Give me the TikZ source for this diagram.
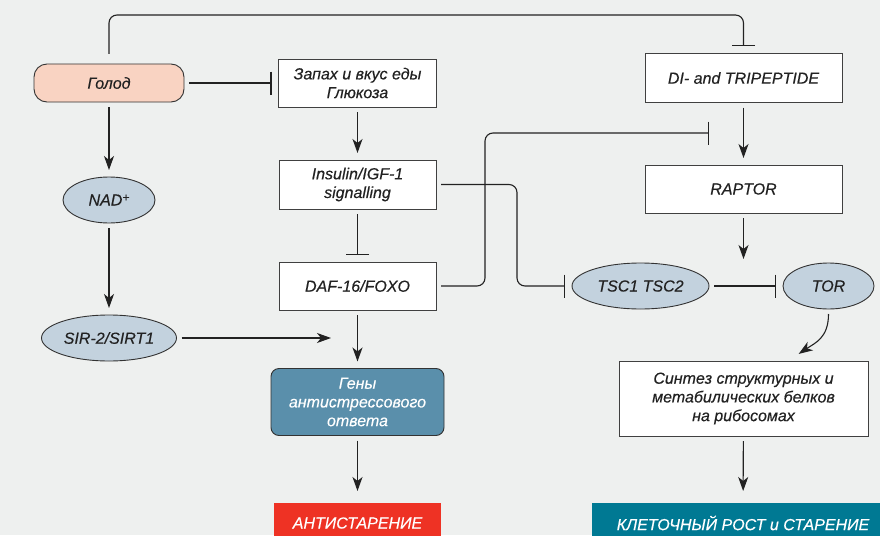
\documentclass[tikz,border=0pt]{standalone}
\usepackage{fontspec}
\setmainfont{Liberation Sans}[FakeBold=0.35]
\usepackage{tikz}
\usetikzlibrary{arrows.meta,shapes.geometric}

\definecolor{bgcol}{HTML}{EEF0EF}
\definecolor{golodcol}{HTML}{F9D3C2}
\definecolor{ellcol}{HTML}{C3D2DE}
\definecolor{genycol}{HTML}{5A8FAB}
\definecolor{redcol}{HTML}{EE3224}
\definecolor{tealcol}{HTML}{007993}
\definecolor{inkcol}{HTML}{222222}

\begin{document}
\begin{tikzpicture}[x=1pt, y=-1pt, line width=1.1pt, draw=inkcol,
	txt/.style={font=\fontsize{16}{18.7}\selectfont\itshape, text=inkcol, align=center, inner sep=0pt, outer sep=5pt},
	box/.style={txt, draw=black!75, line width=0.9pt, fill=white, minimum width=157, minimum height=48},
	ell/.style={txt, ellipse, draw=black!80, line width=0.9pt, fill=ellcol, minimum height=46},
	pill/.style={txt, draw=black!80, line width=0.9pt, fill=golodcol, rounded corners=13pt, minimum width=150, minimum height=38},
	geny/.style={txt, draw=black!80, line width=0.9pt, fill=genycol, text=white, rounded corners=8pt, minimum width=173, minimum height=67},
	banner/.style={txt, fill=#1, text=white, minimum height=40, outer sep=10pt},
	arr/.style={-{Stealth[length=14pt, width=10pt, inset=4pt]}, shorten >=2pt},
	inh/.style={-{Bar[width=23pt]}, shorten >=2pt}]
	\useasboundingbox (0,0) rectangle (880,535);
	\clip (0,0) rectangle (880,535);
	\fill[bgcol] (0,0) rectangle (880,535);

	\node[pill] (golod) at (109,83) {Голод};
	\node[ell, minimum width=92] (nad) at (109,200) {NAD\raisebox{4pt}{\fontsize{12}{12}\selectfont +}};
	\node[ell, minimum width=135] (sir) at (109,338) {SIR-2/SIRT1};

	\node[box, minimum width=158] (zapah) at (357.5,83) {Запах и вкус еды\\Глюкоза};
	\node[box, minimum height=49] (ins) at (357.5,184.5) {Insulin/IGF-1\\signalling};
	\node[box] (daf) at (357.5,286) {DAF-16/FOXO};
	\node[geny] (geny) at (357.5,402) {Гены\\антистрессового\\ответа};
	\node[banner=redcol, minimum width=167] (anti) at (357.5,523) {АНТИСТАРЕНИЕ};

	\node[box, minimum width=197, minimum height=49] (di) at (743.5,78) {DI- and TRIPEPTIDE};
	\node[box, minimum width=197] (raptor) at (743.5,189) {RAPTOR};
	\node[ell, minimum width=137] (tsc) at (640.5,286) {TSC1 TSC2};
	\node[ell, minimum width=91] (tor) at (828.5,286) {TOR};
	\node[box, minimum width=249, minimum height=75] (syn) at (743.5,398.5) {Синтез структурных и\\метабилических белков\\на рибосомах};
	\node[banner=tealcol, minimum width=302] (rost) at (743,523) {КЛЕТОЧНЫЙ РОСТ и СТАРЕНИЕ};

	\coordinate (top) at (743.5,15);
	\coordinate (sirend) at (333,338);
	\coordinate (dibar) at (711,133);
	\coordinate (torbar) at (743.5,261);
	\coordinate (synin) at (797,355);

	\draw[inh, rounded corners=8pt, shorten <=5pt] (golod.north) |- (top) -- (di.north);
	\draw[inh] (golod) -- (zapah);
	\draw[arr] (golod) -- (nad);
	\draw[arr] (nad) -- (sir);
	\draw[arr] (sir) -- (sirend);
	\draw[arr] (zapah) -- (ins);
	\draw[inh] (ins) -- (daf);
	\draw[arr] (daf) -- (geny);
	\draw[arr] (geny) -- (anti);
	\draw[inh, rounded corners=8pt] (daf.east) -| (485,133) -- (dibar);
	\draw[inh, rounded corners=8pt] (ins.east) -| (517,286) -- (tsc.west);
	\draw[arr] (di) -- (raptor);
	\draw[arr] (raptor) -- (torbar);
	\draw[inh] (tsc) -- (tor);
	\draw[arr] (tor.south) .. controls (828.5,338) and (815,343) .. (synin);
	\draw[arr] (syn) -- (rost);
\end{tikzpicture}
\end{document}
